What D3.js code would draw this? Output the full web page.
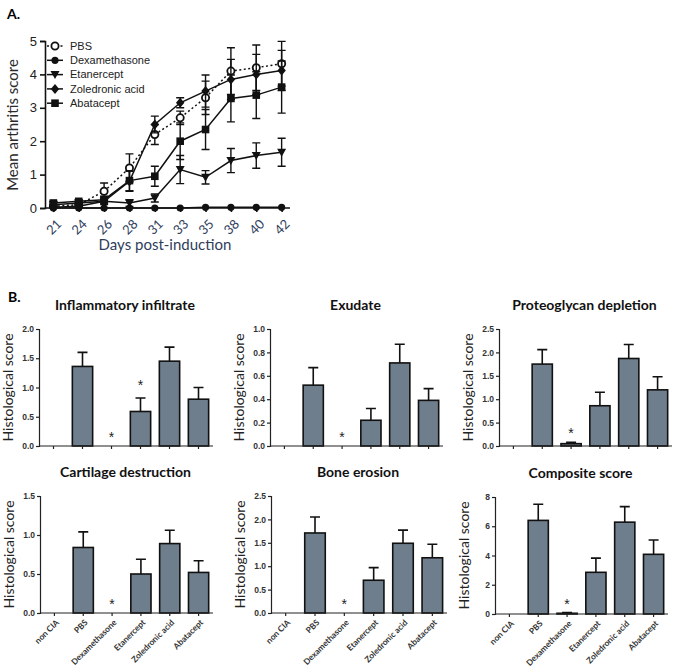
<!DOCTYPE html>
<html>
<head>
<meta charset="utf-8">
<script src="https://cdn.jsdelivr.net/npm/d3@7"></script>
<style>
  body { margin: 0; background: #fff; }
  svg { display: block; }
</style>
</head>
<body>
<div id="holder"></div>
<script>
// ---- panel A data ----
const days = ["21", "24", "26", "28", "31", "33", "35", "38", "40", "42"];
const groupNames = ["PBS", "Dexamethasone", "Etanercept", "Zoledronic acid", "Abatacept"];
const pbsMean = [0.05, 0.1, 0.5, 1.2, 2.2, 2.7, 3.3, 4.1, 4.2, 4.32];
const pbsErr = [0.05, 0.05, 0.25, 0.42, 0.3, 0.2, 0.5, 0.7, 0.68, 0.67];
const dexMean = [0, 0, 0, 0, 0, 0, 0.02, 0.02, 0.02, 0.02];
const dexErr = [0, 0, 0, 0, 0, 0, 0, 0, 0, 0];
const etaMean = [0.1, 0.15, 0.2, 0.15, 0.3, 1.15, 0.92, 1.42, 1.57, 1.67];
const etaErr = [0.05, 0.05, 0.05, 0.1, 0.12, 0.42, 0.2, 0.36, 0.38, 0.42];
const zolMean = [0.02, 0.05, 0.2, 0.8, 2.5, 3.15, 3.5, 3.85, 4.0, 4.12];
const zolErr = [0.02, 0.05, 0.1, 0.3, 0.25, 0.15, 0.48, 0.6, 0.6, 0.6];
const abaMean = [0.15, 0.2, 0.25, 0.82, 0.95, 2.0, 2.35, 3.28, 3.38, 3.62];
const abaErr = [0.05, 0.05, 0.1, 0.3, 0.3, 0.55, 0.6, 0.7, 0.7, 0.78];
const arthritisTicks = [0, 1, 2, 3, 4, 5];

// ---- panel B data ----
const treatments = ["non CIA", "PBS", "Dexamethasone", "Etanercept", "Zoledronic acid", "Abatacept"];
const panelTitles = ["Inflammatory infiltrate", "Exudate", "Proteoglycan depletion",
                     "Cartilage destruction", "Bone erosion", "Composite score"];
const infiltrateMean = [0, 1.36, 0, 0.59, 1.45, 0.8];
const infiltrateErr = [0, 0.24, 0, 0.23, 0.24, 0.2];
const exudateMean = [0, 0.52, 0, 0.22, 0.71, 0.39];
const exudateErr = [0, 0.15, 0, 0.1, 0.16, 0.1];
const proteoMean = [0, 1.75, 0.05, 0.86, 1.87, 1.2];
const proteoErr = [0, 0.31, 0.03, 0.29, 0.3, 0.28];
const cartilageMean = [0, 0.84, 0, 0.5, 0.89, 0.52];
const cartilageErr = [0, 0.2, 0, 0.19, 0.17, 0.15];
const boneMean = [0, 1.71, 0, 0.7, 1.49, 1.18];
const boneErr = [0, 0.34, 0, 0.27, 0.28, 0.29];
const compositeMean = [0, 6.4, 0.05, 2.85, 6.28, 4.08];
const compositeErr = [0, 1.1, 0.05, 0.97, 1.06, 0.98];
const infiltrateTicks = [0, 0.5, 1.0, 1.5, 2.0];
const exudateTicks = [0, 0.2, 0.4, 0.6, 0.8, 1.0];
const proteoTicks = [0, 0.5, 1.0, 1.5, 2.0, 2.5];
const cartilageTicks = [0, 0.5, 1.0, 1.5];
const boneTicks = [0, 0.5, 1.0, 1.5, 2.0, 2.5];
const compositeTicks = [0, 2, 4, 6, 8];
// which bars get an asterisk (index in treatments)
const infiltrateStars = [2, 3];
const otherStars = [2];

const width = 685;
const height = 671;
const sans = "'Liberation Sans', Arial, sans-serif";
const calibri = "Lato, 'Open Sans', sans-serif";
const barFill = "#6f7e8c";

const svg = d3.select("#holder")
    .append("svg")
    .attr("width", width)
    .attr("height", height);

// ================= Panel A =================
svg.append("text")
    .attr("x", 7).attr("y", 19)
    .attr("font-family", calibri).attr("font-weight", "bold").attr("font-size", 14)
    .text("A.");

const xA = d3.scalePoint().domain(days).range([45, 290]).padding(0.33);
const yA = d3.scaleLinear().domain([0, 5]).range([208, 41]);

const gA = svg.append("g");

gA.append("g")
    .attr("transform", "translate(45,0)")
    .call(d3.axisLeft(yA).tickValues(arthritisTicks).tickFormat(d3.format("d")).tickSize(5).tickPadding(3))
    .call(g => g.selectAll("text").attr("font-family", sans).attr("font-size", 13).attr("fill", "#222"))
    .call(g => g.selectAll("line, path").attr("stroke", "#111").attr("stroke-width", 1.6));

gA.append("g")
    .attr("transform", "translate(0,208)")
    .call(d3.axisBottom(xA).tickSize(4).tickSizeOuter(0))
    .call(g => g.select(".domain").attr("d", "M45,0H290"))
    .call(g => g.selectAll("line, path").attr("stroke", "#111").attr("stroke-width", 1.6))
    .call(g => g.selectAll("text")
        .attr("font-family", calibri).attr("font-size", 13).attr("fill", "#2f3d5c")
        .attr("text-anchor", "middle")
        .attr("x", 0).attr("y", 0)
        .attr("dy", "0.35em")
        .attr("transform", "translate(0,19) rotate(-45)"));

gA.append("text")
    .attr("x", 165).attr("y", 250)
    .attr("text-anchor", "middle")
    .attr("font-family", calibri).attr("font-size", 15).attr("fill", "#2f3d5c")
    .text("Days post-induction");

gA.append("text")
    .attr("transform", "translate(18,125) rotate(-90)")
    .attr("text-anchor", "middle")
    .attr("font-family", calibri).attr("font-size", 15).attr("fill", "#2a2a2a")
    .text("Mean arthritis score");

const seriesA = [
    { name: groupNames[0], mean: pbsMean, err: pbsErr, shape: "circleOpen", dash: "2,2.5" },
    { name: groupNames[1], mean: dexMean, err: dexErr, shape: "circle", dash: null },
    { name: groupNames[2], mean: etaMean, err: etaErr, shape: "triangleDown", dash: null },
    { name: groupNames[3], mean: zolMean, err: zolErr, shape: "diamond", dash: null },
    { name: groupNames[4], mean: abaMean, err: abaErr, shape: "square", dash: null }
];

function drawMarker(g, shape, x, y) {
    if (shape === "circleOpen") {
        g.append("circle").attr("cx", x).attr("cy", y).attr("r", 3.6)
            .attr("fill", "#fff").attr("stroke", "#111").attr("stroke-width", 1.8);
    } else if (shape === "circle") {
        g.append("circle").attr("cx", x).attr("cy", y).attr("r", 3.6).attr("fill", "#111");
    } else if (shape === "triangleDown") {
        g.append("path").attr("d", `M${x - 4.5},${y - 3.5}L${x + 4.5},${y - 3.5}L${x},${y + 4.5}Z`).attr("fill", "#111");
    } else if (shape === "diamond") {
        g.append("path").attr("d", `M${x},${y - 5}L${x + 4.2},${y}L${x},${y + 5}L${x - 4.2},${y}Z`).attr("fill", "#111");
    } else if (shape === "square") {
        g.append("rect").attr("x", x - 3.8).attr("y", y - 3.8).attr("width", 7.6).attr("height", 7.6).attr("fill", "#111");
    }
}

const lineA = d3.line()
    .x(d => xA(d.day))
    .y(d => yA(d.v));

seriesA.forEach(s => {
    const pts = days.map((day, i) => ({ day: day, v: s.mean[i], e: s.err[i] }));
    const gs = gA.append("g");
    // error bars
    pts.filter(p => p.e > 0.04).forEach(p => {
        const x = xA(p.day);
        gs.append("path")
            .attr("d", `M${x},${yA(p.v - p.e)}V${yA(p.v + p.e)}M${x - 4},${yA(p.v + p.e)}H${x + 4}M${x - 4},${yA(p.v - p.e)}H${x + 4}`)
            .attr("stroke", "#111").attr("stroke-width", 1.4).attr("fill", "none");
    });
    gs.append("path")
        .datum(pts)
        .attr("d", lineA)
        .attr("fill", "none")
        .attr("stroke", "#111")
        .attr("stroke-width", 1.5)
        .attr("stroke-dasharray", s.dash);
    pts.forEach(p => drawMarker(gs, s.shape, xA(p.day), yA(p.v)));
});

// legend
const legend = gA.append("g");
seriesA.forEach((s, i) => {
    const ly = 46 + i * 14.3;
    legend.append("line")
        .attr("x1", 47).attr("x2", 63).attr("y1", ly).attr("y2", ly)
        .attr("stroke", "#111").attr("stroke-width", 1.5)
        .attr("stroke-dasharray", s.dash);
    drawMarker(legend, s.shape, 55, ly);
    legend.append("text")
        .attr("x", 70).attr("y", ly).attr("dy", "0.35em")
        .attr("font-family", sans).attr("font-size", 11).attr("fill", "#222")
        .text(s.name);
});

// ================= Panel B =================
svg.append("text")
    .attr("x", 8).attr("y", 302)
    .attr("font-family", calibri).attr("font-weight", "bold").attr("font-size", 14)
    .text("B.");

const panels = [
    { title: panelTitles[0], mean: infiltrateMean, err: infiltrateErr, ticks: infiltrateTicks, fmt: ".1f", stars: infiltrateStars, x0: 39, x1: 213, top: 329, bottom: 446, labels: false },
    { title: panelTitles[1], mean: exudateMean, err: exudateErr, ticks: exudateTicks, fmt: ".1f", stars: otherStars, x0: 270, x1: 443, top: 329, bottom: 446, labels: false },
    { title: panelTitles[2], mean: proteoMean, err: proteoErr, ticks: proteoTicks, fmt: ".1f", stars: otherStars, x0: 499, x1: 672, top: 329, bottom: 446, labels: false },
    { title: panelTitles[3], mean: cartilageMean, err: cartilageErr, ticks: cartilageTicks, fmt: ".1f", stars: otherStars, x0: 40, x1: 213, top: 496, bottom: 613, labels: true },
    { title: panelTitles[4], mean: boneMean, err: boneErr, ticks: boneTicks, fmt: ".1f", stars: otherStars, x0: 271, x1: 447, top: 496, bottom: 613, labels: true },
    { title: panelTitles[5], mean: compositeMean, err: compositeErr, ticks: compositeTicks, fmt: "d", stars: otherStars, x0: 495, x1: 668, top: 497, bottom: 614, labels: true }
];

panels.forEach(p => {
    const g = svg.append("g");
    const x = d3.scaleBand().domain(treatments).range([p.x0, p.x1]).paddingInner(0.3).paddingOuter(0.15);
    const y = d3.scaleLinear().domain([0, d3.max(p.ticks)]).range([p.bottom, p.top]);

    // title
    g.append("text")
        .attr("x", (p.x0 + p.x1) / 2 - 1)
        .attr("y", p.top - 19)
        .attr("text-anchor", "middle")
        .attr("font-family", calibri).attr("font-weight", "bold").attr("font-size", 14)
        .attr("fill", "#111")
        .text(p.title);

    // y label
    g.append("text")
        .attr("transform", `translate(${p.x0 - 26},${(p.top + p.bottom) / 2}) rotate(-90)`)
        .attr("text-anchor", "middle")
        .attr("font-family", calibri).attr("font-size", 14).attr("fill", "#222")
        .text("Histological score");

    // bars
    g.selectAll("rect.bar")
        .data(treatments.map((t, i) => ({ t: t, v: p.mean[i], e: p.err[i] })).filter(d => d.v > 0))
        .enter()
        .append("rect")
        .attr("class", "bar")
        .attr("x", d => x(d.t))
        .attr("y", d => y(d.v))
        .attr("width", x.bandwidth())
        .attr("height", d => y(0) - y(d.v))
        .attr("fill", barFill)
        .attr("stroke", "#111")
        .attr("stroke-width", 1.6);

    // error bars (upper only)
    treatments.forEach((t, i) => {
        if (p.err[i] <= 0) return;
        const cx = x(t) + x.bandwidth() / 2;
        g.append("path")
            .attr("d", `M${cx},${y(p.mean[i])}V${y(p.mean[i] + p.err[i])}M${cx - 5},${y(p.mean[i] + p.err[i])}H${cx + 5}`)
            .attr("stroke", "#111").attr("stroke-width", 1.6).attr("fill", "none");
    });

    // asterisks
    p.stars.forEach(i => {
        const cx = x(treatments[i]) + x.bandwidth() / 2;
        const top = p.mean[i] + p.err[i];
        const yy = top > 0.1 * d3.max(p.ticks) ? y(top) - 8 : y(top) - 4;
        g.append("text")
            .attr("x", cx).attr("y", yy)
            .attr("text-anchor", "middle")
            .attr("font-family", sans).attr("font-size", 14).attr("fill", "#222")
            .text("*");
    });

    // axes
    g.append("g")
        .attr("transform", `translate(${p.x0},0)`)
        .call(d3.axisLeft(y).tickValues(p.ticks).tickFormat(d3.format(p.fmt)).tickSize(3).tickPadding(2))
        .call(a => a.selectAll("text").attr("font-family", sans).attr("font-weight", "bold").attr("font-size", 8.5).attr("fill", "#333"))
        .call(a => a.selectAll("line, path").attr("stroke", "#222").attr("stroke-width", 1.2));

    const xa = g.append("g")
        .attr("transform", `translate(0,${p.bottom})`)
        .call(d3.axisBottom(x).tickSize(3).tickSizeOuter(0))
        .call(a => a.select(".domain").attr("d", `M${p.x0},0H${p.x1}`))
        .call(a => a.selectAll("line, path").attr("stroke", "#222").attr("stroke-width", 1.2));
    if (p.labels) {
        xa.selectAll("text")
            .attr("font-family", calibri).attr("font-weight", "bold").attr("font-size", 8.3).attr("fill", "#333")
            .attr("text-anchor", "end")
            .attr("x", 0).attr("y", 0)
            .attr("dy", "0.35em")
            .attr("transform", "translate(3,8) rotate(-45)");
    } else {
        xa.selectAll("text").remove();
    }
});
</script>
</body>
</html>
